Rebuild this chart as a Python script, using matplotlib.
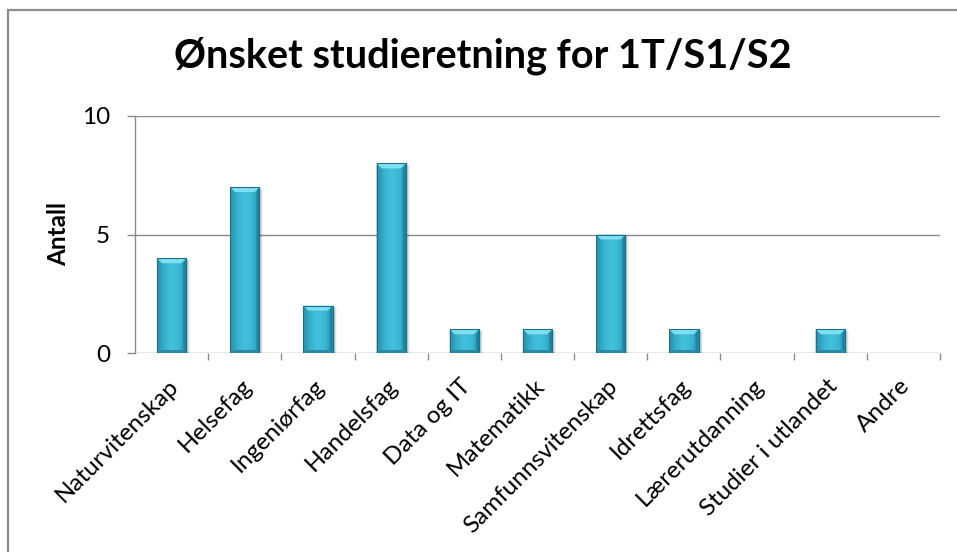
import numpy as np
import matplotlib
matplotlib.use("Agg")
import matplotlib.pyplot as plt
from matplotlib.patches import Polygon, Rectangle
from matplotlib.colors import LinearSegmentedColormap
from matplotlib.transforms import ScaledTranslation

categories = ["Naturvitenskap", "Helsefag", "Ingeniørfag", "Handelsfag", "Data og IT",
              "Matematikk", "Samfunnsvitenskap", "Idrettsfag", "Lærerutdanning",
              "Studier i utlandet", "Andre"]
counts = [4, 7, 2, 8, 1, 1, 5, 1, 0, 1, 0]
y_ticks = [0, 5, 10]
title = "Ønsket studieretning for 1T/S1/S2"
y_label = "Antall"

plt.rcParams["font.family"] = ["Lato", "DejaVu Sans"]

W, H = 957, 552
fig = plt.figure(figsize=(W / 100, H / 100), dpi=100)
fig.patch.set_facecolor("white")

# outer chart frame
fig.add_artist(Rectangle((8 / W, -0.1), 1.2, (H - 10) / H + 0.1, transform=fig.transFigure,
                         fill=False, edgecolor="#8c8c8c", linewidth=1.6))

ax = fig.add_axes([135 / W, (H - 353) / H, (940 - 135) / W, (353 - 116) / H])
n = len(categories)
x = np.arange(n)
ax.set_xlim(-0.5, n - 0.5)
ax.set_ylim(0, 10)

grid_c = "#8a8a8a"
for t in y_ticks:
    ax.axhline(t, color=grid_c, linewidth=1.0, zorder=0)
for s in ["top", "right", "bottom"]:
    ax.spines[s].set_visible(False)
ax.spines["left"].set_color(grid_c)
ax.spines["left"].set_linewidth(1.0)

ax.set_yticks(y_ticks)
ax.set_yticklabels([str(t) for t in y_ticks], fontsize=17.5)
ax.tick_params(axis="y", length=6, width=1.0, color=grid_c, pad=12)
ax.set_xticks(x)
ax.set_xticklabels(categories, rotation=45, ha="right", rotation_mode="anchor", fontsize=17.5)
ax.tick_params(axis="x", which="major", length=0, pad=16)
shift = ScaledTranslation(-4 / 100, 0, fig.dpi_scale_trans)
for lbl in ax.get_xticklabels():
    lbl.set_transform(lbl.get_transform() + shift)
ax.set_xticks(np.arange(-0.5, n, 1.0)[1:], minor=True)
ax.tick_params(axis="x", which="minor", length=5, width=1.0, color=grid_c)

ax.set_ylabel(y_label, fontsize=17.5, fontweight="bold", labelpad=8)
fig.text(0.504, (H - 56) / H, title, ha="center", va="center", fontsize=28.5, fontweight="bold")

bar_w = 0.4
cmap = LinearSegmentedColormap.from_list(
    "bar", ["#2590ab", "#37b2cf", "#44c2dd", "#3ab6d2", "#2893ae"])
grad = np.linspace(0, 1, 64).reshape(1, -1)

# pixel -> data scale for the bevel sizes
px_x = n / (940 - 135)
px_y = 10 / (353 - 116)
bev = 5

bars = ax.bar(x, counts, width=bar_w, color="#3ab6d2", zorder=2, linewidth=0)
for xi, v, b in zip(x, counts, bars):
    if v <= 0:
        continue
    x0, x1 = xi - bar_w / 2, xi + bar_w / 2
    # soft shadow
    for k, a in zip(range(1, 5), [0.18, 0.12, 0.08, 0.05]):
        ax.add_patch(Rectangle((x0 + k * px_x, 0), bar_w, v - k * px_y * 0.5,
                               facecolor="#000000", alpha=a, linewidth=0, zorder=1.5))
    im = ax.imshow(grad, extent=(x0, x1, 0, v), aspect="auto", cmap=cmap, zorder=3,
                   interpolation="bicubic")
    im.set_clip_path(b)
    dx, dy = bev * px_x, bev * px_y
    # top bevel
    ax.add_patch(Polygon([(x0, v), (x1, v), (x1 - dx, v - dy), (x0 + dx, v - dy)],
                         closed=True, facecolor="#7fdff2", edgecolor="none", zorder=4))
    # side bevels
    ax.add_patch(Polygon([(x0, v), (x0 + dx * 0.6, v - dy), (x0 + dx * 0.6, dy * 0.6), (x0, 0)],
                         closed=True, facecolor="#2b9ab6", edgecolor="none", zorder=4, alpha=0.8))
    ax.add_patch(Polygon([(x1, v), (x1 - dx * 0.6, v - dy), (x1 - dx * 0.6, dy * 0.6), (x1, 0)],
                         closed=True, facecolor="#1f7d96", edgecolor="none", zorder=4, alpha=0.8))
    # bottom bevel
    ax.add_patch(Polygon([(x0, 0), (x1, 0), (x1 - dx * 0.6, dy * 0.6), (x0 + dx * 0.6, dy * 0.6)],
                         closed=True, facecolor="#2a89a3", edgecolor="none", zorder=4))
    ax.add_patch(Rectangle((x0, 0), bar_w, v, fill=False, edgecolor="#1c6f86",
                           linewidth=0.8, zorder=5))

ax.set_xlim(-0.5, n - 0.5)
ax.set_ylim(0, 10)
ax.set_facecolor("white")

fig.savefig("out.png", dpi=100, facecolor="white")
